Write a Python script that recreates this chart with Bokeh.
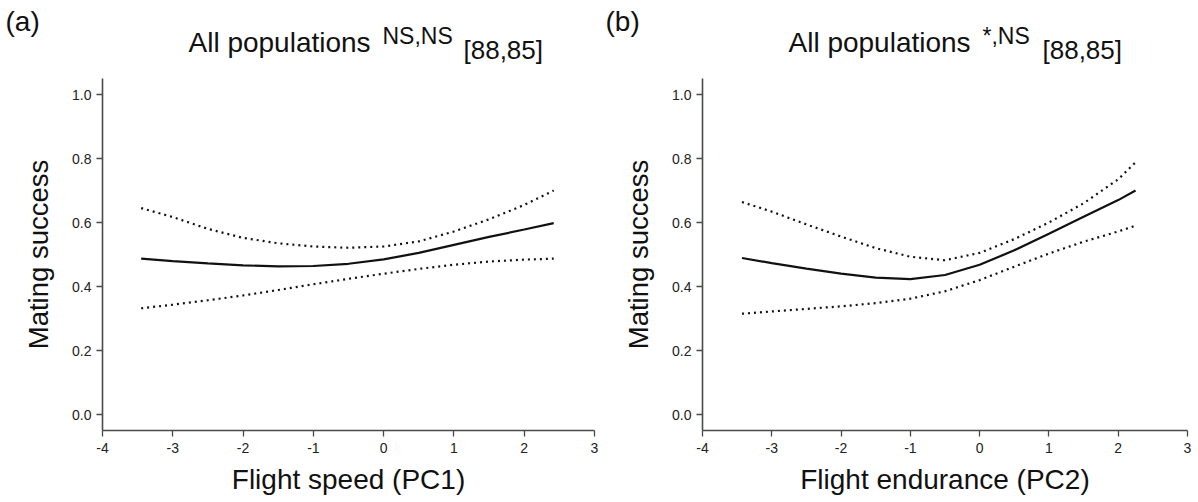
from bokeh.plotting import figure
from bokeh.models import Label, FixedTicker, Range1d
from bokeh.layouts import row, column
from bokeh.embed import file_html
from bokeh.resources import INLINE

# ---------------- data ----------------
x_speed = [-3.45, -3, -2.5, -2, -1.5, -1, -0.5, 0, 0.5, 1, 1.5, 2, 2.42]
fit_speed = [0.487, 0.479, 0.472, 0.466, 0.463, 0.464, 0.471, 0.485, 0.505, 0.530, 0.555, 0.578, 0.598]
upper_speed = [0.645, 0.617, 0.580, 0.552, 0.535, 0.525, 0.521, 0.525, 0.541, 0.572, 0.610, 0.655, 0.700]
lower_speed = [0.332, 0.343, 0.357, 0.372, 0.389, 0.407, 0.424, 0.440, 0.455, 0.468, 0.478, 0.484, 0.487]

x_endur = [-3.43, -3, -2.5, -2, -1.5, -1, -0.5, 0, 0.5, 1, 1.5, 2, 2.25]
fit_endur = [0.489, 0.473, 0.456, 0.440, 0.428, 0.423, 0.436, 0.468, 0.513, 0.565, 0.618, 0.670, 0.700]
upper_endur = [0.664, 0.634, 0.594, 0.556, 0.520, 0.493, 0.482, 0.505, 0.548, 0.600, 0.660, 0.735, 0.788]
lower_endur = [0.315, 0.322, 0.330, 0.338, 0.348, 0.362, 0.385, 0.420, 0.462, 0.503, 0.540, 0.572, 0.590]

x_ticks = [-4, -3, -2, -1, 0, 1, 2, 3]
x_tick_labels = {-4: "-4", -3: "-3", -2: "-2", -1: "-1", 0: "0", 1: "1", 2: "2", 3: "3"}
y_ticks = [0.0, 0.2, 0.4, 0.6, 0.8, 1.0]
y_tick_labels = {0.0: "0.0", 0.2: "0.2", 0.4: "0.4", 0.6: "0.6", 0.8: "0.8", 1.0: "1.0"}

panel_letters = ["(a)", "(b)"]
title_main = "All populations"
title_sup = ["NS,NS", "*,NS"]
title_sub = ["[88,85]", "[88,85]"]

FONT = "Liberation Sans"
XR = (-4, 3)
YR = (-0.05, 1.05)
HEADER_H = 78
TOTAL_W = 1198


def make_panel(width, left, right, bottom, xs, fit, up, lo, xlabel):
    p = figure(width=width, height=502 - HEADER_H, x_range=Range1d(*XR), y_range=Range1d(*YR),
               output_backend="svg", toolbar_location=None,
               min_border_left=left, min_border_right=right,
               min_border_top=0, min_border_bottom=bottom)
    p.outline_line_color = None
    p.grid.visible = False
    p.background_fill_color = "white"
    p.border_fill_color = "white"

    for ax in (p.xaxis[0], p.yaxis[0]):
        ax.axis_line_color = "#4a4a4a"
        ax.axis_line_width = 1.6
        ax.major_tick_line_color = "#4a4a4a"
        ax.major_tick_line_width = 1.3
        ax.major_tick_out = 6
        ax.major_tick_in = 0
        ax.minor_tick_line_color = None
        ax.major_label_text_font = FONT
        ax.major_label_text_font_size = "14px"
        ax.major_label_text_color = "#222222"
        ax.axis_label_text_font = FONT
        ax.axis_label_text_font_style = "normal"
        ax.axis_label_text_color = "#111111"

    p.xaxis.axis_label_text_font_size = "28px"
    p.yaxis.axis_label_text_font_size = "27.5px"
    p.xaxis.ticker = FixedTicker(ticks=x_ticks)
    p.xaxis.major_label_overrides = x_tick_labels
    p.yaxis.ticker = FixedTicker(ticks=y_ticks)
    p.yaxis.major_label_overrides = y_tick_labels
    p.xaxis.axis_label = xlabel
    p.yaxis.axis_label = "Mating success"
    p.xaxis.major_label_standoff = 6
    p.yaxis.major_label_standoff = 5
    p.xaxis.axis_label_standoff = 8
    p.yaxis.axis_label_standoff = 15

    p.line(xs, up, line_color="#111111", line_width=2.2, line_dash="2 4")
    p.line(xs, lo, line_color="#111111", line_width=2.2, line_dash="2 4")
    p.line(xs, fit, line_color="#111111", line_width=2.2)
    return p


# header strip holding the panel letters and the titles (pixel coordinates, y downwards)
hdr = figure(width=TOTAL_W, height=HEADER_H, x_range=Range1d(0, TOTAL_W),
             y_range=Range1d(HEADER_H, 0), x_axis_type=None, y_axis_type=None,
             output_backend="svg", toolbar_location=None,
             min_border_left=0, min_border_right=0, min_border_top=0, min_border_bottom=0)
hdr.outline_line_color = None
hdr.grid.visible = False
hdr.background_fill_color = "white"
hdr.border_fill_color = "white"


def lab(px, py, text, size):
    hdr.add_layout(Label(x=px, y=py, text=text, text_font=FONT, text_font_size=size,
                         text_color="#111111", text_baseline="middle", text_align="left"))


# placements (pixels, text centre line) per panel: letter, main, superscript, subscript
placements = [
    {"letter": (5, 21), "main": (188, 42), "sup": (382, 35), "sub": (463, 49)},
    {"letter": (605, 21), "main": (788, 42), "sup": (982, 35), "sub": (1042, 49)},
]
for i, pl in enumerate(placements):
    lab(*pl["letter"], panel_letters[i], "28px")
    lab(*pl["main"], title_main, "28px")
    lab(*pl["sup"], title_sup[i], "23px")
    lab(*pl["sub"], title_sub[i], "26px")

pa = make_panel(600, 102, 6, 72, x_speed, fit_speed, upper_speed, lower_speed,
                "Flight speed (PC1)")
pb = make_panel(598, 102, 11, 71, x_endur, fit_endur, upper_endur, lower_endur,
                "Flight endurance (PC2)")

layout = column(hdr, row(pa, pb))
open("out.html", "w").write(file_html(layout, INLINE))
